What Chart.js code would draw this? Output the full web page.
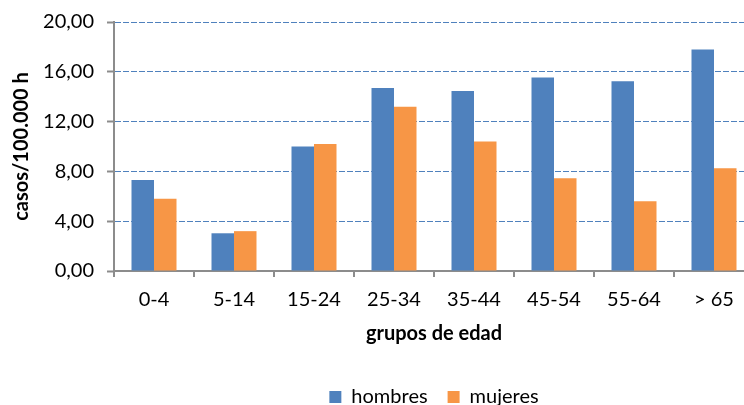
<!DOCTYPE html>
<html>
<head>
<meta charset="utf-8">
<script src="https://cdn.jsdelivr.net/npm/chart.js@4.4.0/dist/chart.umd.min.js"></script>
<style>
  html, body { margin: 0; padding: 0; background: #fff; }
  /* el grafico original esta recortado por la derecha */
  #wrap { width: 744px; height: 405px; overflow: hidden; }
</style>
</head>
<body>
<div id="wrap"><canvas id="chart" width="754" height="405"></canvas></div>
<script>
// datos
var grupos  = ['0-4', '5-14', '15-24', '25-34', '35-44', '45-54', '55-64', '> 65'];
var hombres = [7.3, 3.03, 10.0, 14.7, 14.45, 15.55, 15.25, 17.8];
var mujeres = [5.8, 3.2, 10.2, 13.2, 10.4, 7.45, 5.6, 8.25];
var yMin = 0, yMax = 20, yStep = 4;

var AXIS = '#8c8c8c';
var GRID = '#4f81bd';

function fmtComa(v) {
  return Number(v).toFixed(2).replace('.', ',');
}

new Chart(document.getElementById('chart'), {
  type: 'bar',
  data: {
    labels: grupos,
    datasets: [
      { label: 'hombres', data: hombres, backgroundColor: '#4f81bd' },
      { label: 'mujeres', data: mujeres, backgroundColor: '#f79646' }
    ]
  },
  options: {
    responsive: false,
    animation: false,
    devicePixelRatio: 1,
    layout: { padding: { top: 0, right: 0, bottom: -12, left: 0 } },
    datasets: { bar: { categoryPercentage: 0.5625, barPercentage: 1 } },
    scales: {
      x: {
        afterFit: function (s) { s.height = 96; },
        grid: { drawOnChartArea: false, color: AXIS, tickLength: 6, lineWidth: 2 },
        border: { color: AXIS, width: 2 },
        ticks: { color: '#000', padding: 11, font: { family: 'Lato', size: 20 } },
        title: {
          display: true, text: 'grupos de edad', color: '#000',
          font: { family: 'Lato', size: 20, weight: 'bold' },
          padding: { top: 0, bottom: 21 }
        }
      },
      y: {
        min: yMin, max: yMax,
        afterFit: function (s) { s.width = 114; },
        grid: { color: GRID, lineWidth: 1, tickLength: 7, tickColor: AXIS, tickWidth: 2 },
        border: { color: AXIS, width: 2, dash: [6, 2] },
        ticks: {
          stepSize: yStep, color: '#000', padding: 13,
          // lineHeight bajo para que el area empiece en y=22
          font: { family: 'Lato', size: 20, lineHeight: 0.9 },
          callback: function (v) { return fmtComa(v); }
        },
        title: {
          display: true, text: 'casos/100.000 h', color: '#000',
          font: { family: 'Lato', size: 20, weight: 'bold' },
          padding: { top: 10, bottom: 0 }
        }
      }
    },
    plugins: {
      tooltip: { enabled: false },
      legend: {
        position: 'bottom',
        fullSize: false,
        labels: {
          boxWidth: 12, boxHeight: 12, padding: 20, color: '#000',
          font: { family: 'Lato', size: 20 }
        }
      }
    }
  }
});
</script>
</body>
</html>
